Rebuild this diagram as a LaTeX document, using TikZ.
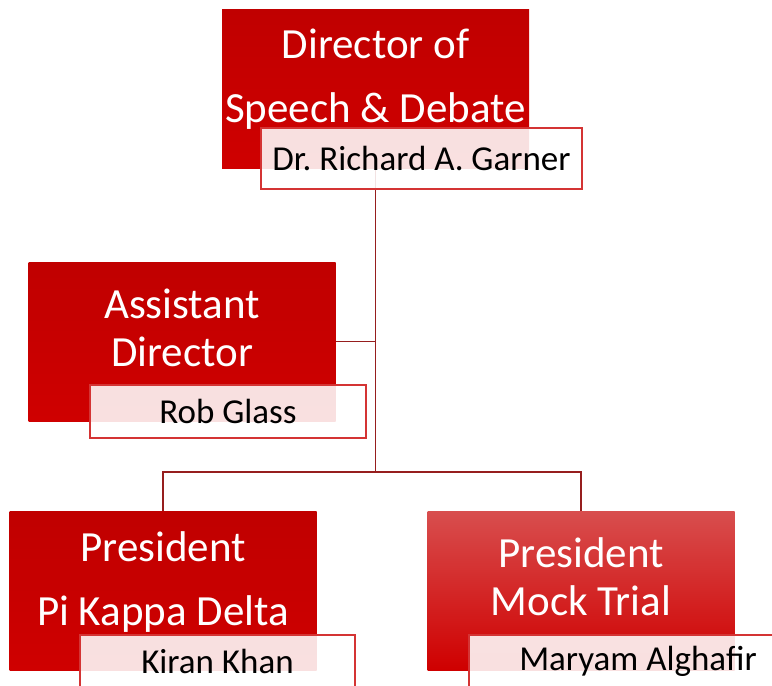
\documentclass[tikz,border=0pt]{standalone}
\usepackage{fontspec}
\setmainfont{Carlito}
\frenchspacing

\definecolor{boxtop}{RGB}{192,0,0}
\definecolor{boxbot}{RGB}{207,0,0}
\definecolor{mocktop}{RGB}{216,78,78}
\definecolor{linkred}{RGB}{150,30,30}
\definecolor{nameline}{RGB}{212,52,52}

\tikzset{
  titlebox/.style={rectangle, inner sep=0pt, minimum width=307pt, minimum height=159pt,
    top color=boxtop, bottom color=boxbot},
  titletext/.style={text=white, align=center, inner sep=0pt, font=\fontsize{43}{48}\selectfont},
  namebox/.style={rectangle, inner sep=0pt, draw=nameline, line width=1.3pt, fill=white,
    fill opacity=0.88, text opacity=1, minimum width=276pt, minimum height=53pt,
    font=\fontsize{35}{40}\selectfont},
  link/.style={draw=linkred, line width=1.4pt}
}

\begin{document}
\begin{tikzpicture}[x=1pt,y=1pt,yscale=-1,xscale=1]
\useasboundingbox (0,0) rectangle (772,686);
\clip (0,0) rectangle (772,686);

%Shape: title boxes
\node[titlebox] (dir) at (375.5,88.5) {};
\node[titlebox] (asst) at (182,341.5) {};
\node[titlebox] (pkd) at (163,590.5) {};
\node[titlebox, top color=mocktop] (mock) at (581,590.5) {};

%Straight Lines: connectors
\coordinate (hub) at (375.5,472);
\draw[link] (dir.south) -- (hub);
\draw[link] (hub) -| (pkd.north);
\draw[link] (hub) -| (mock.north);
\draw[link] (asst.east) -- (asst.east -| hub);

% Text Node
\node[titletext] (dirlbl) at (375.5,79) {Director of\\[16pt]Speech \& Debate};
% Text Node
\node[titletext] (asstlbl) at (182,328) {Assistant\\Director};
% Text Node
\node[titletext] (pkdlbl) at (163,582) {President\\[16pt]Pi Kappa Delta};
% Text Node
\node[titletext] (mocklbl) at (581,577) {President\\Mock Trial};

%Shape: name boxes
\node[namebox, minimum width=321pt, minimum height=61pt] (dirname) at (421.5,158.5) {Dr. Richard A. Garner};
\node[namebox] (asstname) at (228,411.5) {Rob Glass};
\node[namebox, minimum width=275pt] (pkdname) at (217.5,661.5) {Kiran Khan};
\node[namebox, minimum width=338pt] (mockname) at (638,661.5) {Maryam Alghafir};

\end{tikzpicture}
\end{document}
